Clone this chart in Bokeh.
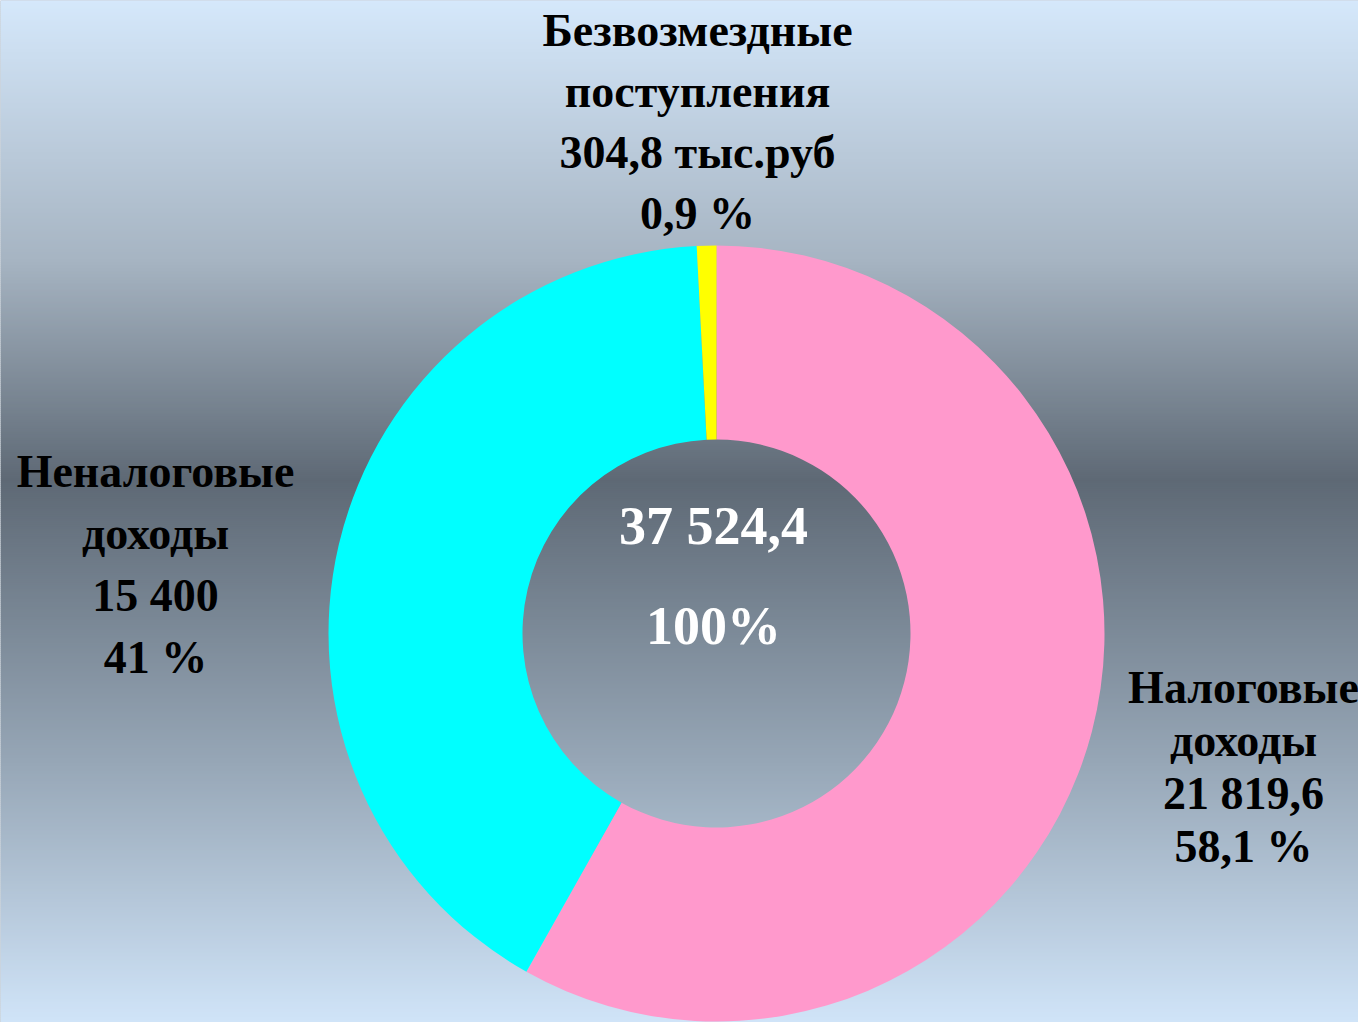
import math
import numpy as np
from bokeh.plotting import figure
from bokeh.models import Range1d, ColumnDataSource
from bokeh.embed import file_html
from bokeh.resources import INLINE
from bokeh.core.properties import value

# ---- data ----
categories = ["Налоговые доходы", "Неналоговые доходы", "Безвозмездные поступления"]
name_lines = [["Налоговые", "доходы"], ["Неналоговые", "доходы"], ["Безвозмездные", "поступления"]]
values = [21819.6, 15400.0, 304.8]
value_labels = ["21 819,6", "15 400", "304,8 тыс.руб"]
percent_labels = ["58,1 %", "41 %", "0,9 %"]
total_label = "37 524,4"
total_pct_label = "100%"
colors = ["#FF99CC", "#00FFFF", "#FFFF00"]

W, H = 1358, 1022
FONT = value("Liberation Serif")

p = figure(width=W, height=H, output_backend="svg", toolbar_location=None,
           x_range=Range1d(0, W), y_range=Range1d(0, H), min_border=0)
p.axis.visible = False
p.grid.visible = False
p.outline_line_color = None
p.background_fill_color = "#9AA8B6"
p.border_fill_color = "#9AA8B6"

# ---- vertical gradient background ----
stops = [(0, (213, 232, 251)), (260, (166, 180, 194)), (480, (94, 105, 117)),
         (760, (150, 166, 182)), (1022, (208, 228, 248))]
step = 2
ys = np.arange(0, H, step)
cols = []
for yi in ys:
    img_y = H - (yi + step / 2)
    for (y0, c0), (y1, c1) in zip(stops[:-1], stops[1:]):
        if y0 <= img_y <= y1:
            t = (img_y - y0) / (y1 - y0)
            c = tuple(int(round(a + (b - a) * t)) for a, b in zip(c0, c1))
            break
    cols.append("#%02x%02x%02x" % c)
p.quad(left=0, right=W, bottom=ys, top=ys + step + 0.6, fill_color=cols, line_color=None)

# ---- donut ----
cx, cy = 716, H - 633
R_out, R_in = 388, 194
total = sum(values)
fr = np.array(values) / total
cum = np.concatenate([[0], np.cumsum(fr)])
start = [math.pi / 2 - 2 * math.pi * cum[i + 1] for i in range(len(values))]
end = [math.pi / 2 - 2 * math.pi * cum[i] for i in range(len(values))]
src = ColumnDataSource(dict(start=start, end=end, color=colors, cat=categories))
p.annular_wedge(x=cx, y=cy, inner_radius=R_in, outer_radius=R_out,
                start_angle="start", end_angle="end", direction="anticlock",
                fill_color="color", line_color=None, source=src)

# ---- labels ----
anchors = [(1243, 687, 53), (155, 471, 62), (697, 30, 61)]
for i in range(len(values)):
    lines = name_lines[i] + [value_labels[i], percent_labels[i]]
    ax, ay, lh = anchors[i]
    for j, t in enumerate(lines):
        p.text(x=[ax], y=[H - (ay + j * lh)], text=[t], text_font=FONT,
               text_font_size="46px", text_font_style="bold", text_color="black",
               text_align="center", text_baseline="middle")

p.text(x=[713], y=[H - 525], text=[total_label], text_font=FONT, text_font_size="54px",
       text_font_style="bold", text_color="white", text_align="center", text_baseline="middle")
p.text(x=[713], y=[H - 625], text=[total_pct_label], text_font=FONT, text_font_size="54px",
       text_font_style="bold", text_color="white", text_align="center", text_baseline="middle")

html = file_html(p, INLINE)
html = html.replace("<head>", "<head><style>html,body{margin:0;padding:0;overflow:hidden;}</style>", 1)
open("out.html", "w").write(html)
